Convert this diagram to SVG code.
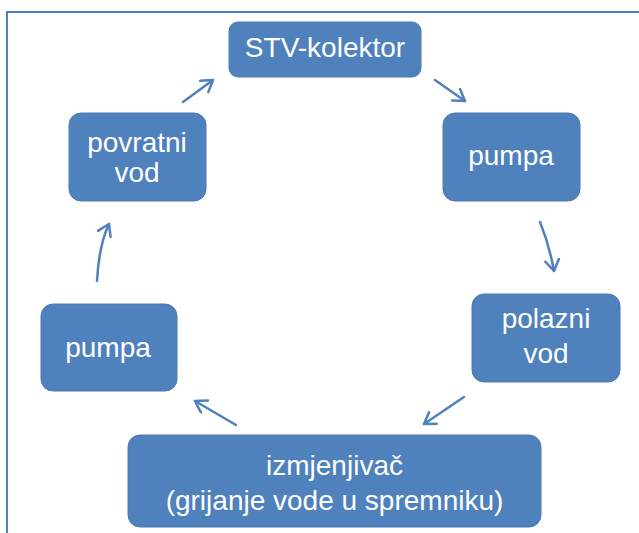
<svg xmlns="http://www.w3.org/2000/svg" width="639" height="533" viewBox="0 0 639 533">
<style>
.box{fill:#4f81bd;stroke:#4a7ab3;stroke-width:1}
.t{font-family:"Liberation Sans",Arial,sans-serif;font-size:28px;fill:#ffffff;text-anchor:middle}
.c{fill:none;stroke:#4f81bd;stroke-width:2.5;stroke-linecap:round}
</style>
<defs>
<marker id="ah" markerUnits="userSpaceOnUse" markerWidth="20" markerHeight="20" refX="12" refY="8" orient="auto">
<path d="M1,1 L12,8 L1,15" fill="none" stroke="#4f81bd" stroke-width="2.5" stroke-linecap="round" stroke-linejoin="round"/>
</marker>
</defs>
<rect width="639" height="533" fill="#ffffff"/>
<path d="M7,533 V12 H639" fill="none" stroke="#4f81bd" stroke-width="2"/>
<g id="stv"><rect class="box" x="229" y="22" width="192" height="55" rx="9"/><text class="t" x="325" y="57">STV-kolektor</text></g>
<g id="pumpa1"><rect class="box" x="443" y="113" width="137" height="88" rx="12"/><text class="t" x="511" y="165">pumpa</text></g>
<g id="polazni"><rect class="box" x="472" y="294" width="148" height="88" rx="12"/><text class="t" x="546" y="328">polazni</text><text class="t" x="546" y="363">vod</text></g>
<g id="izmjenjivac"><rect class="box" x="128" y="435" width="413" height="92" rx="12"/><text class="t" x="334.5" y="475">izmjenjivač</text><text class="t" x="334.5" y="510">(grijanje vode u spremniku)</text></g>
<g id="pumpa2"><rect class="box" x="41" y="304" width="136" height="87" rx="12"/><text class="t" x="108" y="357">pumpa</text></g>
<g id="povratni"><rect class="box" x="69" y="113" width="137" height="88" rx="12"/><text class="t" x="137" y="152">povratni</text><text class="t" x="137" y="182">vod</text></g>
<g id="connectors">
<path class="c" d="M183,102 L213,80" marker-end="url(#ah)"/>
<path class="c" d="M435,80 L465,101" marker-end="url(#ah)"/>
<path class="c" d="M540,222 Q549,244 554,271" marker-end="url(#ah)"/>
<path class="c" d="M464,397 L424,424" marker-end="url(#ah)"/>
<path class="c" d="M236,425 L195,401" marker-end="url(#ah)"/>
<path class="c" d="M97,281 Q99,245 109,224" marker-end="url(#ah)"/>
</g>
</svg>
